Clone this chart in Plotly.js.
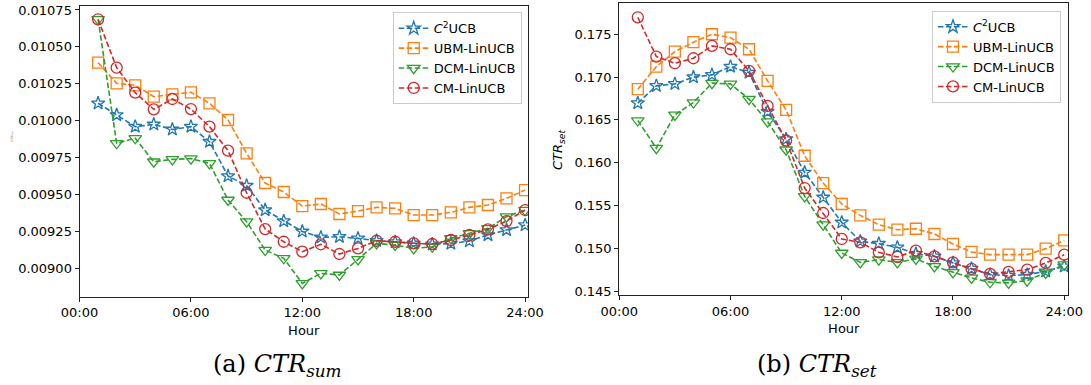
<!DOCTYPE html>
<html>
<head>
<meta charset="utf-8">
<script src="https://cdn.plot.ly/plotly-3.0.1.min.js"></script>
<style>html,body{margin:0;padding:0;background:#fff;}#chart{width:1091px;height:385px;}</style>
</head>
<body>
<div id="chart"></div>
<script>
const hours = [1,2,3,4,5,6,7,8,9,10,11,12,13,14,15,16,17,18,19,20,21,22,23,24];
const xTickVals = [0,6,12,18,24];
const xTickText = ['00:00','06:00','12:00','18:00','24:00'];
const seriesNames = ['<i>C</i><sup>2</sup>UCB','UBM-LinUCB','DCM-LinUCB','CM-LinUCB'];

// (a) CTR_sum
const sumC2UCB = [0.010118,0.010039,0.009960,0.009975,0.009941,0.009960,0.009858,0.009625,0.009560,0.009395,0.009320,0.009250,0.009210,0.009214,0.009203,0.009187,0.009178,0.009169,0.009163,0.009168,0.009185,0.009226,0.009260,0.009293];
const sumUBM    = [0.010393,0.010253,0.010240,0.010163,0.010179,0.010192,0.010118,0.010005,0.009779,0.009578,0.009517,0.009422,0.009436,0.009368,0.009388,0.009413,0.009406,0.009361,0.009361,0.009379,0.009413,0.009429,0.009474,0.009530];
const sumDCM    = [0.010687,0.009847,0.009881,0.009722,0.009738,0.009743,0.009711,0.009463,0.009316,0.009124,0.009068,0.008898,0.008966,0.008955,0.009061,0.009169,0.009158,0.009135,0.009146,0.009203,0.009237,0.009271,0.009350,0.009395];
const sumCM     = [0.010687,0.010359,0.010190,0.010077,0.010147,0.010079,0.009960,0.009797,0.009512,0.009266,0.009180,0.009113,0.009163,0.009097,0.009135,0.009187,0.009180,0.009169,0.009165,0.009192,0.009226,0.009264,0.009320,0.009395];

// (b) CTR_set
const setC2UCB = [0.16696,0.16898,0.16921,0.16999,0.17026,0.17122,0.17052,0.16598,0.16276,0.15887,0.15596,0.15304,0.15083,0.15056,0.15013,0.14939,0.14908,0.14831,0.14765,0.14695,0.14683,0.14695,0.14733,0.14791];
const setUBM    = [0.16859,0.17122,0.17297,0.17407,0.17500,0.17460,0.17325,0.16956,0.16618,0.16082,0.15763,0.15519,0.15386,0.15277,0.15219,0.15230,0.15169,0.15052,0.14959,0.14928,0.14928,0.14928,0.14998,0.15094];
const setDCM    = [0.16493,0.16171,0.16559,0.16703,0.16929,0.16921,0.16742,0.16481,0.16152,0.15607,0.15277,0.14947,0.14838,0.14869,0.14838,0.14878,0.14791,0.14721,0.14656,0.14605,0.14598,0.14625,0.14714,0.14811];
const setCM     = [0.17698,0.17239,0.17162,0.17220,0.17364,0.17325,0.17072,0.16664,0.16260,0.15705,0.15414,0.15111,0.15072,0.14955,0.14901,0.14974,0.14908,0.14838,0.14761,0.14703,0.14726,0.14753,0.14831,0.14928];

const colors = ['#1f77b4','#ff7f0e','#2ca02c','#d62728'];
const symbols = ['star-open','square-open','triangle-down-open','circle-open'];
const sizes = [10,11,11,11];

function mk(y, i, xa, ya, leg) {
  return {
    x: hours, y: y, type: 'scatter', mode: 'lines+markers',
    name: seriesNames[i], xaxis: xa, yaxis: ya, legend: leg,
    line: {color: colors[i], width: 1.6, dash: '5.5px,2.5px'},
    marker: {symbol: symbols[i], size: sizes[i], color: colors[i], line: {color: colors[i], width: 1.3}}
  };
}

const traces = [
  mk(sumC2UCB,0,'x','y','legend'), mk(sumUBM,1,'x','y','legend'), mk(sumDCM,2,'x','y','legend'), mk(sumCM,3,'x','y','legend'),
  mk(setC2UCB,0,'x2','y2','legend2'), mk(setUBM,1,'x2','y2','legend2'), mk(setDCM,2,'x2','y2','legend2'), mk(setCM,3,'x2','y2','legend2')
];

const tickFont = {family: 'DejaVu Sans', size: 13, color: '#000'};
function xax(domain, anchor, range) {
  return {domain: domain, anchor: anchor, range: range, tickvals: xTickVals, ticktext: xTickText,
    showgrid: false, zeroline: false, showline: true, linecolor: '#222', linewidth: 1, mirror: true,
    ticks: 'outside', ticklen: 4, tickwidth: 1, tickcolor: '#222', tickfont: tickFont,
    title: {text: 'Hour', font: {family: 'DejaVu Sans', size: 13, color: '#000'}, standoff: 6}};
}
function yax(domain, anchor, range, tv, tt) {
  return {domain: domain, anchor: anchor, range: range, tickvals: tv, ticktext: tt,
    showgrid: false, zeroline: false, showline: true, linecolor: '#222', linewidth: 1, mirror: true,
    ticks: 'outside', ticklen: 4, tickwidth: 1, tickcolor: '#222', tickfont: tickFont};
}

const leftYTicks = [0.00900,0.00925,0.00950,0.00975,0.01000,0.01025,0.01050,0.01075];
const leftYText = ['0.00900','0.00925','0.00950','0.00975','0.01000','0.01025','0.01050','0.01075'];
const rightYTicks = [0.145,0.150,0.155,0.160,0.165,0.170,0.175];
const rightYText = ['0.145','0.150','0.155','0.160','0.165','0.170','0.175'];

const legendStyle = {font: {family: 'DejaVu Sans', size: 13, color: '#000'}, bordercolor: '#cccccc', borderwidth: 1,
  bgcolor: 'rgba(255,255,255,0.8)', xanchor: 'right', yanchor: 'top', tracegroupgap: 0, itemwidth: 30};

const layout = {
  width: 1091, height: 385, margin: {l: 0, r: 0, t: 0, b: 0},
  paper_bgcolor: '#fff', plot_bgcolor: '#fff', showlegend: true,
  xaxis: xax([0.0729, 0.4840], 'y', [0, 24.16]),
  yaxis: yax([0.2294, 0.9844], 'x', [0.008808, 0.010777], leftYTicks, leftYText),
  xaxis2: xax([0.5676, 0.9792], 'y2', [0, 24.22]),
  yaxis2: yax([0.2338, 0.9914], 'x2', [0.14457, 0.17861], rightYTicks, rightYText),
  legend: Object.assign({x: 0.4782, y: 0.968}, legendStyle),
  legend2: Object.assign({x: 0.9725, y: 0.972}, legendStyle),
  annotations: [
    {text: '<i>CTR</i><sub><i>sum</i></sub>', xref: 'paper', yref: 'paper', x: 7/1091, y: 1-137/385,
     showarrow: false, textangle: -90, font: {family: 'DejaVu Sans', size: 3, color: '#555'}},
    {text: '<i>CTR</i><sub><i>set</i></sub>', xref: 'paper', yref: 'paper', x: 558/1091, y: 1-150/385,
     showarrow: false, textangle: -90, font: {family: 'DejaVu Sans', size: 13, color: '#000'}},
    {text: '(a) <i>CTR</i><sub><i>sum</i></sub>', xref: 'paper', yref: 'paper', x: 211/1091, y: 1-365/385,
     xanchor: 'left', yanchor: 'middle', showarrow: false, font: {family: 'DejaVu Serif', size: 24, color: '#000'}},
    {text: '(b) <i>CTR</i><sub><i>set</i></sub>', xref: 'paper', yref: 'paper', x: 755/1091, y: 1-365/385,
     xanchor: 'left', yanchor: 'middle', showarrow: false, font: {family: 'DejaVu Serif', size: 24, color: '#000'}}
  ]
};

Plotly.newPlot('chart', traces, layout, {displayModeBar: false, staticPlot: true});
</script>
</body>
</html>
